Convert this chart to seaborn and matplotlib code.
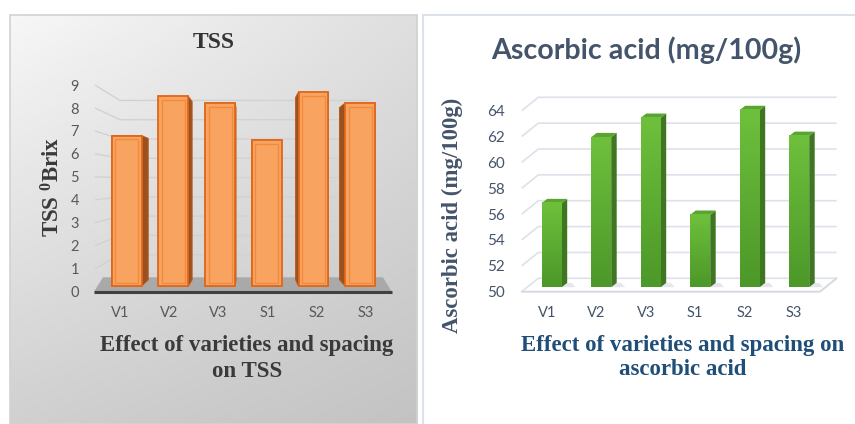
import numpy as np
import matplotlib
matplotlib.use("Agg")
import matplotlib.pyplot as plt
import seaborn as sns
from matplotlib.patches import Polygon, Rectangle

# ---- data -------------------------------------------------------------
categories = ["V1", "V2", "V3", "S1", "S2", "S3"]
tss_brix = [6.9, 8.7, 8.4, 6.7, 8.9, 8.4]
ascorbic_acid = [56.5, 61.6, 63.1, 55.6, 63.7, 61.7]
tss_ticks = [0, 1, 2, 3, 4, 5, 6, 7, 8, 9]
ascorbic_ticks = [50, 52, 54, 56, 58, 60, 62, 64]

W, H, DPI = 855, 424, 100

sns.set_theme(style="white")
plt.rcParams["font.family"] = ["Lato", "DejaVu Sans"]
plt.rcParams["mathtext.fontset"] = "custom"
plt.rcParams["mathtext.rm"] = "Liberation Serif:bold"
plt.rcParams["mathtext.it"] = "Liberation Serif:bold"
plt.rcParams["mathtext.bf"] = "Liberation Serif:bold"

SERIF = ["Liberation Serif", "DejaVu Serif"]

fig = plt.figure(figsize=(W / DPI, H / DPI), dpi=DPI)
fig.patch.set_facecolor("white")

# ---- background panels (pixel space, origin top-left) -----------------
bg = fig.add_axes([0, 0, 1, 1], zorder=-10)
bg.axis("off")
px0, py0, px1, py1 = 10, 15, 417, 424
gx, gy = np.meshgrid(np.arange(px0, px1) - px0, np.arange(py0, py1) - py0)
shade = 247 - 0.059 * gx - 0.0954 * gy + 6.6e-5 * gx * gy
shade = np.clip(shade, 0, 255) / 255.0
bg.imshow(np.dstack([shade, shade, shade]), extent=(px0, px1, py1, py0),
          aspect="auto", interpolation="bilinear")
bg.add_patch(Rectangle((px0, py0), px1 - px0, py1 - py0, fill=False,
                       ec="#d2d2d2", lw=1.2))
bg.add_patch(Rectangle((422.7, 15), 440, 420, fc="white", ec="#dbe2ea", lw=1.5))
bg.set_xlim(0, W)
bg.set_ylim(H, 0)


def make_axes(box):
    """box = (left, top, right, bottom) in px, origin top-left."""
    l, t, r, b = box
    ax = fig.add_axes([l / W, 1 - b / H, (r - l) / W, (b - t) / H])
    ax.set_facecolor("none")
    return ax


def limits(box, geo):
    l, t, r, b = box
    x0, dx, y0, v0, dy = geo
    return ((l - x0) / dx, (r - x0) / dx), (v0 + (y0 - b) / dy, v0 + (y0 - t) / dy)


def px2d(px, py, geo):
    x0, dx, y0, v0, dy = geo
    return np.array([(px - x0) / dx, v0 + (y0 - py) / dy])


def convex_hull(points):
    pts = sorted(map(tuple, points))

    def cross(o, a, b):
        return (a[0] - o[0]) * (b[1] - o[1]) - (a[1] - o[1]) * (b[0] - o[0])

    lower, upper = [], []
    for p in pts:
        while len(lower) >= 2 and cross(lower[-2], lower[-1], p) <= 0:
            lower.pop()
        lower.append(p)
    for p in reversed(pts):
        while len(upper) >= 2 and cross(upper[-2], upper[-1], p) <= 0:
            upper.pop()
        upper.append(p)
    return np.array(lower[:-1] + upper[:-1])


# ======================= TSS (perspective 3-D columns) =================
boxL = (95, 60, 395, 300)
geoL = (120, 49.2, 291.7, 0, 22.96)
axL = make_axes(boxL)

sns.barplot(x=categories, y=tss_brix, ax=axL, width=0.64, color="#F8A35F",
            saturation=1, edgecolor="#E0681A", linewidth=1.3, errorbar=None,
            zorder=3)
barsL = list(axL.patches)

vpL = px2d(251, 181, geoL)          # vanishing point
k_front, k_depth, k_wall = 0.949, 0.94, 0.84


def persp(p, k):
    return vpL + k * (np.asarray(p) - vpL)


# walls: side-wall diagonals and back-wall gridlines
xl_front = px2d(95, 0, geoL)[0]
xr_front = px2d(391.7, 0, geoL)[0]
for t in tss_ticks:
    a = np.array([xl_front, t])
    b = persp(a, k_wall)
    c = persp(np.array([xr_front, t]), k_wall)
    axL.plot([a[0], b[0], c[0]], [a[1], b[1], c[1]], color="#d2d2d2", lw=1.0,
             zorder=1, clip_on=False, solid_capstyle="butt")

# floor
floor_px = [(94, 291.7), (391.7, 291.7), (383, 277.3), (103, 277.3)]
axL.add_patch(Polygon([px2d(x, y, geoL) for x, y in floor_px], closed=True,
                      fc="#a9a9a9", ec="none", zorder=1.5, clip_on=False))
f0, f1 = px2d(94, 291.7, geoL), px2d(391.7, 291.7, geoL)
axL.plot([f0[0], f1[0]], [f0[1], f1[1]], color="#404040", lw=2.2, zorder=1.6,
         clip_on=False, solid_capstyle="butt")

insx, insy = 3.5 / geoL[1], 3.5 / geoL[4]
for bar in barsL:
    x, y, w, h = bar.get_x(), bar.get_y(), bar.get_width(), bar.get_height()
    corners = np.array([[x, y], [x + w, y], [x + w, y + h], [x, y + h]])
    front = persp(corners, k_front)
    back = persp(corners, k_front * k_depth)
    bar.set_xy(front[0])
    bar.set_width(w * k_front)
    bar.set_height(h * k_front)
    axL.add_patch(Polygon(convex_hull(np.vstack([front, back])), closed=True,
                          fc="#9A5122", ec="#B85A1A", lw=0.8, zorder=2.5))
    fx, fy = front[0]
    fw, fh = w * k_front, h * k_front
    axL.add_patch(Rectangle((fx + insx, fy + insy), fw - 2 * insx, fh - 2 * insy,
                            fill=False, ec="#F28A3C", lw=0.9, zorder=3.2))

xlimL, ylimL = limits(boxL, geoL)
axL.set_xlim(*xlimL)
axL.set_ylim(*ylimL)
axL.set_yticks(tss_ticks)
axL.set_yticklabels([str(t) for t in tss_ticks])
axL.set_xticks(range(len(categories)))
axL.set_xticklabels(categories)
axL.set_xlabel("")
axL.set_ylabel("")
axL.tick_params(axis="y", length=0, pad=11.5, labelsize=10.5, labelcolor="#595959")
axL.tick_params(axis="x", length=0, pad=4.5, labelsize=10.5, labelcolor="#595959")
for s in axL.spines.values():
    s.set_visible(False)

fig.text(214 / W, 1 - 43 / H, "TSS", ha="center", va="center", family=SERIF,
         weight="bold", size=17, color="#333333")
fig.text(53 / W, 1 - 187 / H, r"TSS $^{0}$Brix", ha="center", va="center",
         rotation=90, family=SERIF, weight="bold", size=16.5, color="#3a3a3a")
fig.text(247 / W, 1 - 358.5 / H, "Effect of varieties and spacing\non TSS",
         ha="center", va="center", family=SERIF, weight="bold", size=16.5,
         color="#3a3a3a", linespacing=1.3)

# ================= Ascorbic acid (oblique 3-D columns) =================
boxR = (521.7, 70, 845, 300)
geoR = (546.7, 49.5, 291.7, 50, 12.93)
axR = make_axes(boxR)

sns.barplot(x=categories, y=ascorbic_acid, ax=axR, width=0.404, color="#5DAE34",
            saturation=1, linewidth=0, errorbar=None, zorder=3)
barsR = list(axR.patches)

base = ascorbic_ticks[0]
front_off = np.array([5.0 / geoR[1], 4.5 / geoR[4]])
depth_off = np.array([5.5 / geoR[1], 4.3 / geoR[4]])
wall_off = np.array([16.6 / geoR[1], 13.4 / geoR[4]])

# walls
xl_r = px2d(521.7, 0, geoR)[0]
xr_r = px2d(820, 0, geoR)[0]
for t in ascorbic_ticks:
    a = np.array([xl_r, t])
    b = a + wall_off
    c = np.array([xr_r, t]) + wall_off
    axR.plot([a[0], b[0], c[0]], [a[1], b[1], c[1]], color="#dde1ea", lw=1.2,
             zorder=1, clip_on=False, solid_capstyle="butt")
fa = np.array([xl_r, base])
fb = np.array([xr_r, base])
fc_ = fb + wall_off
axR.plot([fa[0], fb[0], fc_[0]], [fa[1], fb[1], fc_[1]], color="#d5d9e2", lw=1.4,
         zorder=1.2, clip_on=False)

top_rgb = np.array([0x6E, 0xC0, 0x3C]) / 255
bot_rgb = np.array([0x4C, 0x98, 0x29]) / 255
grad = np.linspace(0, 1, 64)[:, None, None]
grad_img = top_rgb * (1 - grad) + bot_rgb * grad

for bar in barsR:
    x, w = bar.get_x(), bar.get_width()
    top = bar.get_y() + bar.get_height()
    y0 = max(bar.get_y(), base)
    fl, fb_ = np.array([x, y0]) + front_off
    fr = fl + w
    ft = top + front_off[1]
    bar.set_xy((fl, fb_))
    bar.set_height(ft - fb_)
    # soft floor shadow
    sh = [(fr, fb_), (fr + 14 / geoR[1], fb_), (fr + 10 / geoR[1], fb_ + depth_off[1]),
          (fr + depth_off[0], fb_ + depth_off[1])]
    axR.add_patch(Polygon(sh, closed=True, fc="#b8bcc4", ec="none", alpha=0.35,
                          zorder=2))
    side = [(fr, fb_), (fr, ft), (fr + depth_off[0], ft + depth_off[1]),
            (fr + depth_off[0], fb_ + depth_off[1])]
    axR.add_patch(Polygon(side, closed=True, fc="#3E7621", ec="none", zorder=2.6))
    cap = [(fl, ft), (fr, ft), (fr + depth_off[0], ft + depth_off[1]),
           (fl + depth_off[0], ft + depth_off[1])]
    axR.add_patch(Polygon(cap, closed=True, fc="#5AA531", ec="none", zorder=2.7))
    axR.imshow(grad_img, extent=(fl, fr, fb_, ft), aspect="auto",
               interpolation="bilinear", zorder=3.1)

xlimR, ylimR = limits(boxR, geoR)
axR.set_xlim(*xlimR)
axR.set_ylim(*ylimR)
axR.set_yticks(ascorbic_ticks)
axR.set_yticklabels([str(t) for t in ascorbic_ticks])
axR.set_xticks(range(len(categories)))
axR.set_xticklabels(categories)
axR.set_xlabel("")
axR.set_ylabel("")
axR.tick_params(axis="y", length=0, pad=12, labelsize=11, labelcolor="#44546A")
axR.tick_params(axis="x", length=0, pad=4.5, labelsize=10.5, labelcolor="#44546A")
for s in axR.spines.values():
    s.set_visible(False)

fig.text(646 / W, 1 - 50 / H, "Ascorbic acid (mg/100g)", ha="center",
         va="center", weight="bold", size=20.6, color="#44546A")
fig.text(452 / W, 1 - 215 / H, "Ascorbic acid (mg/100g)", ha="center",
         va="center", rotation=90, family=SERIF, weight="bold", size=16.4,
         color="#44546A")
fig.text(683 / W, 1 - 357.5 / H, "Effect of varieties and spacing on\nascorbic acid",
         ha="center", va="center", family=SERIF, weight="bold", size=16.5,
         color="#1F4E79", linespacing=1.2)

fig.savefig("out.png", dpi=DPI)
